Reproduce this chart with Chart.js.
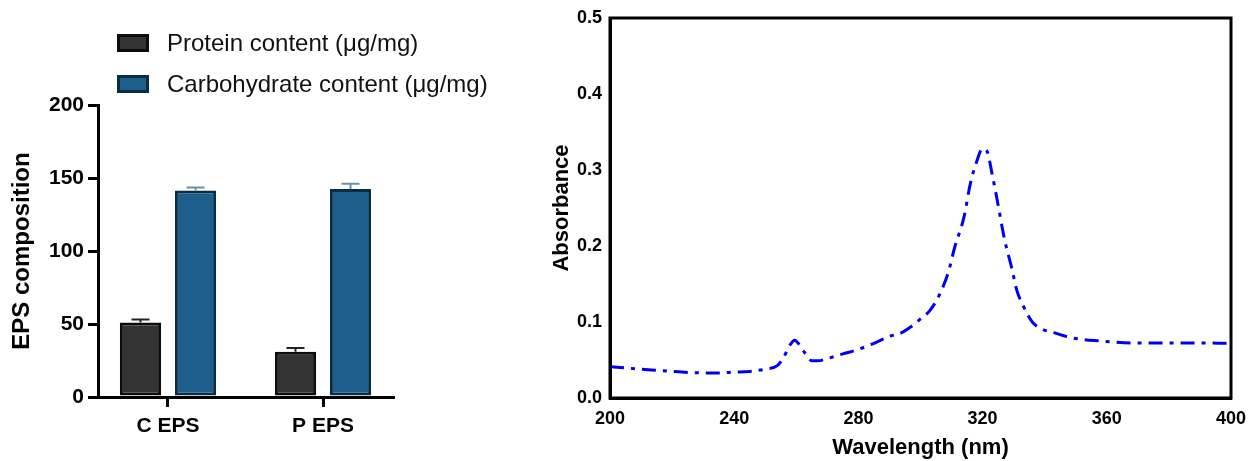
<!DOCTYPE html>
<html>
<head>
<meta charset="utf-8">
<script src="https://cdn.jsdelivr.net/npm/chart.js@4/dist/chart.umd.min.js"></script>
<style>
  body { margin: 0; background: #fff; width: 1249px; height: 461px; position: relative; overflow: hidden; }
  #left { position: absolute; left: 0; top: 0; }
  #right { position: absolute; left: 540px; top: 0; }
  .legend { position: absolute; left: 117px; top: 0; font-family: 'Liberation Sans', Arial, sans-serif; font-size: 24px; color: #111; }
  .legend div { position: absolute; white-space: nowrap; height: 24px; line-height: 24px; }
  .legend span.box { position: absolute; left: 0; top: 3px; width: 26px; height: 12px; border: 3px solid; }
  .legend span.txt { position: absolute; left: 50px; top: 0; }
</style>
</head>
<body>
<canvas id="left" width="540" height="461"></canvas>
<canvas id="right" width="709" height="461"></canvas>
<div class="legend" id="legend"></div>
<script>
// bar chart data (EPS composition)
const categories = ["C EPS", "P EPS"];
const proteinValues = [51, 31];
const proteinErrors = [2, 2.5];
const carbValues = [141.5, 142.5];
const carbErrors = [2, 3.5];

// UV spectrum data
const wavelengths = [200, 210, 220, 230, 235, 240, 245, 250, 254, 256, 258, 259.5, 261, 263, 265, 267, 270, 275, 280, 285, 290, 294, 297, 300, 303, 306, 309, 311, 314, 316, 318, 320, 321.5, 323, 325, 327, 329.5, 331, 333, 336, 339, 343, 349, 358, 368, 385, 400];
const absorbance = [0.041, 0.038, 0.035, 0.033, 0.033, 0.034, 0.035, 0.038, 0.043, 0.054, 0.07, 0.076, 0.07, 0.058, 0.049, 0.049, 0.052, 0.058, 0.064, 0.072, 0.081, 0.086, 0.094, 0.104, 0.115, 0.135, 0.166, 0.198, 0.238, 0.281, 0.31, 0.328, 0.324, 0.296, 0.254, 0.21, 0.169, 0.142, 0.122, 0.1, 0.091, 0.086, 0.079, 0.075, 0.0725, 0.0725, 0.072];

Chart.defaults.font.family = "'Liberation Sans', Arial, sans-serif";
Chart.defaults.color = "#000";

const seriesStyle = [
  { label: "Protein content (\u03bcg/mg)", fill: "#333333", border: "#0d0d0d", err: "#222222", values: proteinValues, errors: proteinErrors },
  { label: "Carbohydrate content (\u03bcg/mg)", fill: "#1d5e8c", border: "#0a2d44", err: "#6f8ea3", values: carbValues, errors: carbErrors },
];

// html legend
const legendEl = document.getElementById("legend");
seriesStyle.forEach((s, i) => {
  const row = document.createElement("div");
  row.style.top = (31 + i * 41) + "px";
  row.innerHTML = '<span class="box" style="background:' + s.fill + ';border-color:' + s.border + '"></span><span class="txt">' + s.label + "</span>";
  legendEl.appendChild(row);
});

// error bars drawn on top of bars
const errorBars = {
  id: "errorBars",
  afterDatasetsDraw(chart) {
    const ctx = chart.ctx;
    const yScale = chart.scales.y;
    chart.data.datasets.forEach((ds, di) => {
      const meta = chart.getDatasetMeta(di);
      meta.data.forEach((bar, i) => {
        const top = yScale.getPixelForValue(ds.data[i].y + ds.errors[i]);
        ctx.save();
        ctx.strokeStyle = ds.errColor;
        ctx.lineWidth = 2;
        ctx.beginPath();
        ctx.moveTo(bar.x, bar.y);
        ctx.lineTo(bar.x, top);
        ctx.moveTo(bar.x - 9, top);
        ctx.lineTo(bar.x + 9, top);
        ctx.stroke();
        ctx.restore();
      });
    });
  },
};

new Chart(document.getElementById("left"), {
  type: "bar",
  data: {
    datasets: seriesStyle.map((s) => ({
      label: s.label,
      data: s.values.map((v, i) => ({ x: i, y: v })),
      errors: s.errors,
      errColor: s.err,
      backgroundColor: s.fill,
      borderColor: s.border,
      borderWidth: 3,
      borderSkipped: false,
      categoryPercentage: 0.71,
      barPercentage: 0.75,
    })),
  },
  options: {
    responsive: false,
    animation: false,
    layout: { padding: { top: 105, right: 147, bottom: 0, left: 0 } },
    plugins: { legend: { display: false }, tooltip: { enabled: false } },
    scales: {
      x: {
        type: "linear",
        min: -0.4516,
        max: 1.4516,
        offset: false,
        afterBuildTicks: (scale) => { scale.ticks = categories.map((c, i) => ({ value: i })); },
        afterFit: (scale) => { scale.height = 64; },
        ticks: { callback: (v) => categories[v], font: { size: 21, weight: "bold" }, padding: 7, maxRotation: 0 },
        grid: { drawOnChartArea: false, offset: false, tickLength: 10, lineWidth: 3, color: "#000" },
        border: { width: 3, color: "#000" },
      },
      y: {
        min: 0,
        max: 200,
        afterFit: (scale) => { scale.width = 98; },
        ticks: { stepSize: 50, font: { size: 21, weight: "bold" }, padding: 4 },
        grid: { drawOnChartArea: false, tickLength: 10, lineWidth: 3, color: "#000" },
        border: { width: 3, color: "#000" },
        title: { display: true, text: "EPS composition", font: { size: 24, weight: "bold" }, padding: { top: 8, bottom: 0 } },
      },
    },
  },
  plugins: [errorBars],
});

// full frame around the plot area
const frame = {
  id: "frame",
  afterDraw(chart) {
    const a = chart.chartArea;
    const ctx = chart.ctx;
    ctx.save();
    ctx.strokeStyle = "#000";
    ctx.lineWidth = 3;
    ctx.strokeRect(a.left, a.top, a.right - a.left, a.bottom - a.top);
    ctx.restore();
  },
};

new Chart(document.getElementById("right"), {
  type: "line",
  data: {
    datasets: [{
      label: "Absorbance",
      data: wavelengths.map((w, i) => ({ x: w, y: absorbance[i] })),
      borderColor: "#0000f0",
      borderWidth: 3,
      borderDash: [14, 7, 4, 7],
      pointRadius: 0,
      cubicInterpolationMode: "monotone",
      fill: false,
    }],
  },
  options: {
    responsive: false,
    animation: false,
    layout: { padding: { top: 18, right: 18, bottom: 0, left: 0 } },
    plugins: { legend: { display: false }, tooltip: { enabled: false } },
    scales: {
      x: {
        type: "linear",
        min: 200,
        max: 400,
        afterFit: (scale) => { scale.height = 63; },
        ticks: { stepSize: 40, font: { size: 18, weight: "bold" }, padding: 2, maxRotation: 0 },
        grid: { display: false },
        border: { width: 3, color: "#000" },
        title: { display: true, text: "Wavelength (nm)", font: { size: 22, weight: "bold" }, padding: { top: 0, bottom: 0 } },
      },
      y: {
        min: 0,
        max: 0.5,
        afterFit: (scale) => { scale.width = 70; },
        ticks: { stepSize: 0.1, font: { size: 18, weight: "bold" }, padding: 0, callback: (v) => v.toFixed(1) },
        grid: { display: false },
        border: { width: 3, color: "#000" },
        title: { display: true, text: "Absorbance", font: { size: 22, weight: "bold" }, padding: { top: 9, bottom: 0 } },
      },
    },
  },
  plugins: [frame],
});
</script>
</body>
</html>
